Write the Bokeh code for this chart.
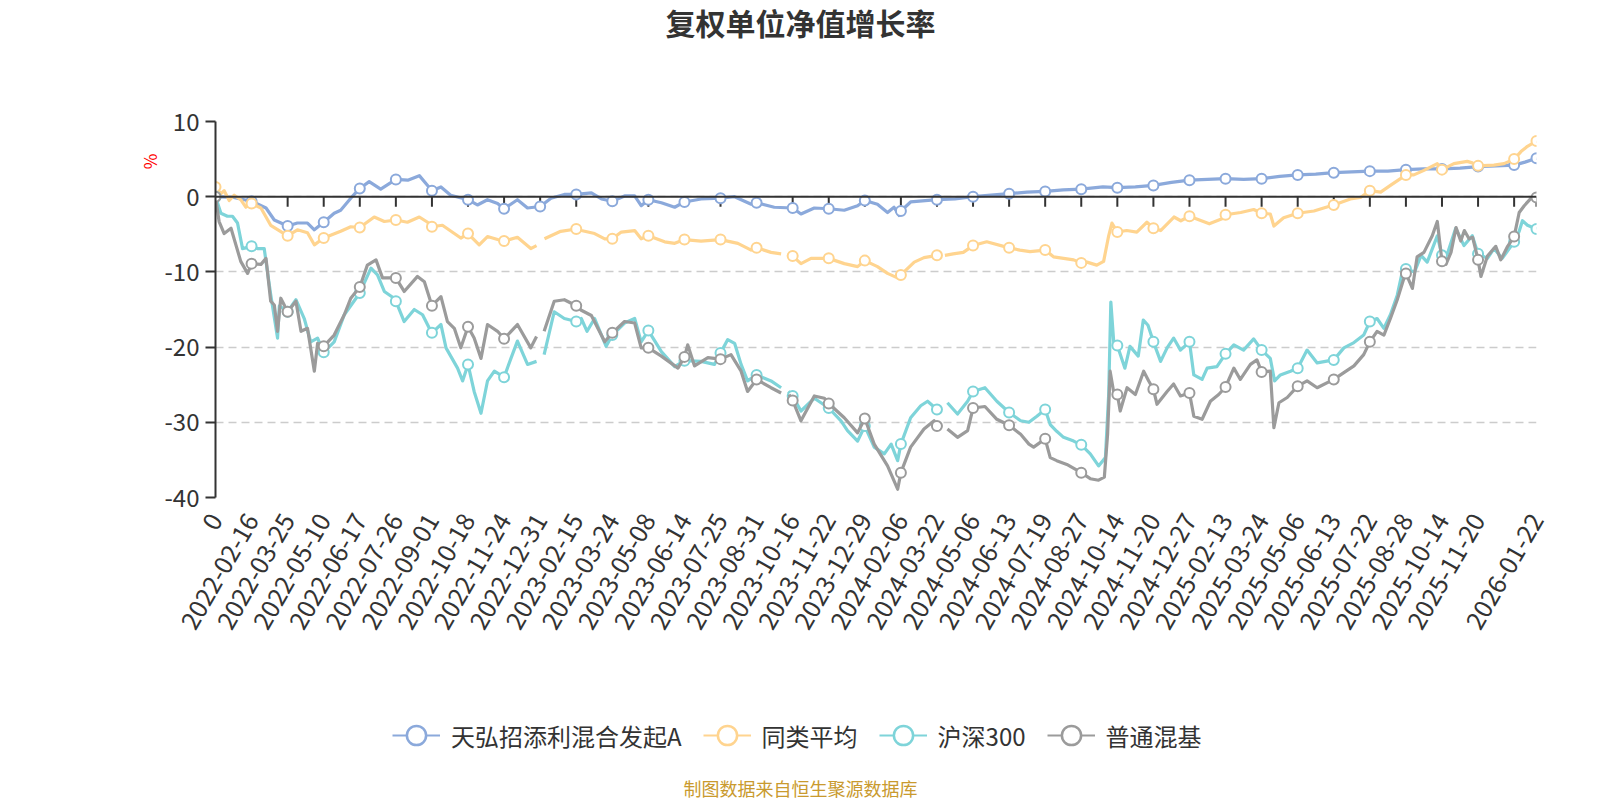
import numpy as np
from math import pi
from bokeh.plotting import figure
from bokeh.layouts import column
from bokeh.models import Range1d, FixedTicker, Span, Legend, LegendItem, Title, Label
from bokeh.embed import file_html
from bokeh.resources import INLINE

nan = float("nan")

# ---------------- data ----------------
title_text = "复权单位净值增长率"
footer_text = "制图数据来自恒生聚源数据库"
y_unit = "%"
series_names = ["天弘招添利混合发起A", "同类平均", "沪深300", "普通混基"]

# category axis: tick labels every 27 trading days (position in label-interval units)
tick_labels = ["0", "2022-02-16", "2022-03-25", "2022-05-10", "2022-06-17", "2022-07-26",
               "2022-09-01", "2022-10-18", "2022-11-24", "2022-12-31", "2023-02-15",
               "2023-03-24", "2023-05-08", "2023-06-14", "2023-07-25", "2023-08-31",
               "2023-10-16", "2023-11-22", "2023-12-29", "2024-02-06", "2024-03-22",
               "2024-05-06", "2024-06-13", "2024-07-19", "2024-08-27", "2024-10-14",
               "2024-11-20", "2024-12-27", "2025-02-13", "2025-03-24", "2025-05-06",
               "2025-06-13", "2025-07-22", "2025-08-28", "2025-10-14", "2025-11-20",
               "", "2026-01-22"]

fund_x = [0, 0.5, 1, 1.4, 1.63, 2, 2.27, 2.55, 2.74, 3, 3.29, 3.47, 3.75, 4, 4.26, 4.58, 5,
          5.33, 5.65, 5.88, 6, 6.25, 6.52, 7, 7.26, 7.54, 7.82, 8, 8.37, 8.65, 9, 9.3, 9.67,
          10, 10.42, 10.7, 11, 11.34, 11.62, 11.8, 12, 12.36, 12.73, 13, 13.46, 14, 14.39,
          14.85, 15, 15.49, 16, 16.23, 16.6, 17, 17.43, 17.8, 18, 18.35, 18.63, 18.81, 18.95,
          19, 19.27, 20, 20.5, 21, 21.5, 22, 22.5, 23, 23.5, 24, 24.6, 25, 25.5, 26, 26.5, 27,
          27.5, 28, 28.5, 29, 29.5, 30, 30.5, 31, 31.5, 32, 32.5, 33, 33.5, 34, 34.5, 35,
          35.5, 36, 36.3, 36.62]
fund_y = [0.0, -0.1, -0.6, -1.5, -3.1, -3.9, -3.5, -3.5, -4.4, -3.4, -2.2, -1.8, -0.2, 1.1,
          2.0, 1.0, 2.3, 2.2, 2.8, 1.5, 0.8, 1.3, 0.2, -0.4, -1.1, -0.4, -0.9, -1.6, -0.4,
          -1.5, -1.3, -0.2, 0.3, 0.3, 0.5, -0.3, -0.6, 0.1, 0.1, -1.2, -0.4, -0.8, -1.4, -0.7,
          -0.3, -0.2, 0.0, -1.0, -0.8, -1.4, -1.5, -2.3, -1.5, -1.6, -1.8, -1.2, -0.5, -1.0,
          -2.1, -1.4, -2.5, -1.9, -0.7, -0.4, -0.3, 0.0, 0.2, 0.4, 0.6, 0.7, 0.9, 1.0, 1.3,
          1.2, 1.3, 1.5, 1.9, 2.2, 2.3, 2.4, 2.3, 2.4, 2.7, 2.9, 3.0, 3.2, 3.3, 3.4, 3.4, 3.6,
          3.7, 3.7, 3.8, 4.0, 4.1, 4.2, 4.6, 5.1]

peer_x = [0, 0.15, 0.24, 0.38, 0.52, 0.7, 0.84, 1, 1.26, 1.53, 2, 2.27, 2.55, 2.74, 3, 3.47,
          3.75, 4, 4.4, 4.68, 5, 5.32, 5.65, 5.88, 6, 6.29, 6.62, 6.8, 7, 7.31, 7.54, 7.82, 8,
          8.37, 8.74, 8.9, 9, 9.12, 9.57, 10, 10.14, 10.51, 10.79, 11, 11.25, 11.62, 11.8, 12,
          12.45, 12.73, 13, 13.46, 14, 14.48, 14.85, 15, 15.4, 15.68, 15.75, 15.86, 16, 16.23,
          16.51, 17, 17.43, 17.8, 18, 18.35, 18.63, 18.95, 19, 19.37, 19.64, 20, 20.1, 20.15,
          20.22, 20.45, 20.73, 21, 21.38, 22, 22.3, 22.58, 23, 23.23, 23.51, 23.79, 24, 24.16,
          24.43, 24.62, 24.76, 24.85, 25, 25.26, 25.54, 25.82, 26, 26.2, 26.57, 26.76, 27,
          27.55, 27.92, 28, 28.42, 28.78, 29, 29.24, 29.34, 29.61, 30, 30.45, 30.72, 31, 31.46,
          31.74, 32, 32.3, 32.57, 32.85, 33, 33.22, 33.5, 33.87, 34, 34.33, 34.7, 34.84, 35,
          35.44, 35.72, 36, 36.19, 36.37, 36.62]
peer_y = [1.3, 0.4, 0.8, -0.5, 0.2, -0.4, -1.4, -0.9, -1.5, -3.8, -5.2, -4.4, -4.8, -6.4, -5.5,
          -4.6, -4.0, -4.1, -2.7, -3.3, -3.1, -3.4, -2.7, -3.4, -4.0, -3.8, -4.9, -5.5, -4.9,
          -6.4, -5.3, -5.7, -5.9, -5.4, -6.9, -6.5, nan, -5.6, -4.6, -4.3, -4.5, -4.9, -5.6,
          -5.6, -4.7, -4.5, -5.6, -5.2, -6.0, -6.2, -5.7, -5.9, -5.7, -6.2, -7.1, -6.8, -7.4,
          -7.6, nan, -7.6, -7.9, -8.9, -8.2, -8.2, -8.9, -9.3, -8.5, -9.3, -10.2, -10.9, -10.4,
          -8.7, -8.1, -7.8, -7.9, nan, -7.8, -7.6, -7.4, -6.5, -6.0, -6.8, -7.1, -7.3, -7.1,
          -8.0, -8.2, -8.4, -8.8, -8.7, -9.1, -8.6, -5.2, -3.5, -4.7, -4.5, -4.7, -3.4, -4.2,
          -4.5, -2.7, -3.2, -2.6, -3.6, -2.9, -2.4, -2.1, -1.7, -2.2, -2.3, -3.9, -2.8, -2.2,
          -1.9, -1.5, -1.1, -0.3, -0.1, 0.8, 0.6, 1.5, 2.4, 2.9, 2.9, 3.5, 4.4, 3.6, 4.4, 4.7,
          4.5, 4.1, 4.2, 4.4, 5.0, 6.0, 6.7, 7.4]

hs300_x = [0, 0.15, 0.33, 0.47, 0.61, 0.75, 1, 1.16, 1.35, 1.53, 1.72, 1.77, 2, 2.23, 2.46,
           2.64, 2.83, 3, 3.29, 3.57, 4, 4.31, 4.49, 4.68, 4.95, 5, 5.23, 5.51, 5.74, 5.97, 6,
           6.25, 6.39, 6.71, 6.85, 7, 7.17, 7.36, 7.54, 7.73, 8, 8.19, 8.37, 8.65, 8.9, 9, 9.11,
           9.39, 9.67, 10, 10.14, 10.3, 10.51, 10.83, 11, 11.34, 11.62, 11.8, 12, 12.36, 12.73,
           13, 13.46, 13.83, 14, 14.2, 14.39, 14.57, 14.75, 15, 15.4, 15.68, 15.75, 15.88, 16,
           16.23, 16.6, 17, 17.34, 17.52, 17.8, 18, 18.26, 18.54, 18.73, 18.91, 19, 19.27,
           19.55, 19.74, 20, 20.1, 20.15, 20.29, 20.57, 20.85, 21, 21.33, 21.66, 22, 22.32,
           22.55, 22.77, 23, 23.14, 23.32, 23.51, 23.79, 24, 24.25, 24.48, 24.67, 24.76, 24.82,
           24.9, 25, 25.21, 25.35, 25.58, 25.72, 25.85, 26, 26.2, 26.38, 26.56, 26.75, 27,
           27.12, 27.35, 27.49, 27.76, 28, 28.23, 28.5, 28.78, 29, 29.24, 29.36, 29.52, 29.8, 30,
           30.26, 30.54, 31, 31.28, 31.56, 31.83, 32, 32.2, 32.39, 32.57, 32.76, 32.9, 33,
           33.24, 33.42, 33.59, 33.87, 34, 34.15, 34.38, 34.61, 34.84, 35, 35.26, 35.44, 35.67,
           36, 36.14, 36.23, 36.37, 36.62]
hs300_y = [0.0, -2.2, -2.6, -2.6, -3.5, -6.9, -6.6, -6.9, -6.9, -13.0, -18.8, -14.5, -15.3,
           -13.7, -16.2, -19.3, -18.8, -20.7, -19.3, -15.7, -12.8, -9.5, -10.4, -12.6, -13.5,
           -13.9, -16.6, -15.0, -15.7, -17.9, -18.1, -17.0, -20.1, -22.8, -24.5, -22.3, -25.9,
           -28.8, -24.5, -23.2, -24.0, -21.5, -19.2, -22.3, -21.9, nan, -21.0, -15.3, -16.2,
           -16.6, -16.2, -17.9, -16.2, -19.9, -18.4, -16.8, -16.2, -19.3, -17.8, -20.6, -22.6,
           -21.8, -21.9, -22.3, -20.8, -19.0, -19.5, -22.3, -24.5, -23.7, -24.5, -25.4, nan,
           -25.9, -26.5, -28.5, -26.8, -28.1, -29.8, -31.1, -32.5, -30.5, -33.3, -34.2, -32.9,
           -35.1, -32.9, -29.4, -27.8, -27.2, -28.3, -28.0, nan, -27.4, -28.9, -27.2, -25.9,
           -25.4, -27.2, -28.7, -29.8, -30.0, -29.2, -28.3, -30.3, -31.2, -32.0, -32.5, -33.0,
           -34.2, -35.8, -34.7, -26.3, -14.0, -19.3, -19.8, -22.8, -19.9, -21.2, -16.4, -17.1,
           -19.3, -21.9, -20.1, -18.8, -20.4, -19.3, -23.7, -24.3, -22.8, -22.6, -20.9, -19.7,
           -20.4, -18.9, -20.4, -21.5, -24.5, -23.7, -23.2, -22.8, -20.4, -22.1, -21.7, -20.1,
           -19.4, -18.4, -16.6, -16.2, -17.5, -15.7, -13.1, -10.0, -9.6, -10.0, -7.8, -8.7,
           -5.2, -7.8, -7.6, -4.2, -6.5, -5.2, -7.6, -8.2, -6.9, -8.2, -6.0, -4.6, -3.2, -3.8,
           -4.3]

mix_x = [0, 0.1, 0.24, 0.43, 0.7, 0.89, 1, 1.26, 1.4, 1.53, 1.63, 1.72, 1.81, 2, 2.23, 2.37,
         2.55, 2.74, 2.83, 3, 3.29, 3.57, 3.75, 4, 4.21, 4.45, 4.63, 5, 5.23, 5.6, 5.79, 6,
         6.25, 6.43, 6.62, 6.8, 7, 7.17, 7.36, 7.54, 7.82, 8, 8.37, 8.74, 8.9, 9, 9.11, 9.39,
         9.67, 10, 10.14, 10.42, 10.79, 11, 11.34, 11.62, 11.8, 12, 12.36, 12.82, 13, 13.09,
         13.28, 13.65, 14, 14.29, 14.57, 14.75, 15, 15.4, 15.68, 15.75, 15.9, 16, 16.23, 16.6,
         16.88, 17, 17.43, 17.8, 18, 18.26, 18.63, 18.91, 19, 19.27, 19.64, 19.92, 20, 20.1,
         20.15, 20.29, 20.57, 20.85, 21, 21.33, 21.66, 22, 22.32, 22.55, 22.68, 23, 23.14,
         23.32, 23.6, 24, 24.25, 24.48, 24.64, 24.73, 24.8, 24.9, 25, 25.08, 25.27, 25.5,
         25.73, 25.87, 26, 26.1, 26.38, 26.56, 26.75, 27, 27.12, 27.35, 27.58, 27.81, 28,
         28.23, 28.41, 28.69, 28.87, 29, 29.24, 29.34, 29.48, 29.71, 30, 30.26, 30.54, 31,
         31.28, 31.56, 31.83, 32, 32.2, 32.39, 32.57, 32.76, 32.94, 33, 33.18, 33.31, 33.5,
         33.73, 33.87, 34, 34.11, 34.25, 34.39, 34.52, 34.62, 34.75, 34.85, 35, 35.08, 35.26,
         35.49, 35.63, 35.82, 36, 36.14, 36.28, 36.51, 36.62]
mix_y = [0.0, -3.3, -4.9, -4.2, -8.6, -10.2, -8.9, -9.0, -8.2, -13.9, -14.4, -17.9, -13.5,
         -15.3, -13.9, -17.9, -17.5, -23.2, -19.5, -19.9, -18.4, -15.7, -13.5, -12.0, -9.1,
         -8.4, -10.8, -10.8, -12.6, -10.6, -11.3, -14.5, -13.3, -16.6, -17.5, -20.1, -17.3,
         -18.8, -21.5, -17.0, -17.9, -18.9, -17.0, -20.1, -18.6, nan, -17.9, -13.9, -13.7,
         -14.5, -15.1, -15.8, -19.3, -18.1, -16.6, -16.8, -20.1, -20.1, -21.2, -22.8, -21.3,
         -19.7, -22.5, -21.4, -21.6, -21.0, -23.2, -25.9, -24.3, -25.4, -26.1, nan, -26.3,
         -27.1, -29.8, -26.5, -26.8, -27.5, -29.4, -31.4, -29.5, -32.9, -35.8, -38.9, -36.7,
         -33.3, -30.9, -29.8, -30.5, -30.6, nan, -30.9, -32.0, -31.1, -28.1, -27.9, -29.6,
         -30.4, -31.6, -32.9, -33.3, -32.2, -34.7, -35.1, -35.6, -36.7, -37.5, -37.7, -37.3,
         -31.6, -23.2, -26.0, -26.3, -28.5, -25.4, -26.3, -23.2, -24.5, -25.6, -27.6, -25.9,
         -24.9, -26.5, -26.1, -29.2, -29.6, -27.2, -26.3, -25.3, -22.8, -24.3, -22.3, -21.7,
         -23.3, -23.2, -30.7, -27.4, -26.7, -25.2, -24.5, -25.4, -24.3, -23.4, -22.5, -21.0,
         -19.3, -17.9, -18.4, -16.2, -13.7, -10.9, -10.2, -12.2, -8.0, -7.4, -5.2, -3.3, -8.6,
         -9.0, -7.4, -4.1, -5.9, -4.5, -5.6, -5.4, -8.4, -10.6, -7.9, -6.6, -8.4, -6.6, -5.3,
         -2.1, -1.2, 0.0, -0.1]

colors = ["#8BA9DB", "#FFD48F", "#7ED4D9", "#9B9B9B"]
y_ticks = [-40, -30, -20, -10, 0, 10]

# ---------------- layout ----------------
W = 1600
HEAD_H, MAIN_H, FOOT_H = 100, 600, 100
LEFT, RIGHT, TOP = 215, 64, 21
FRAME_H = 376
BOTTOM = MAIN_H - TOP - FRAME_H
FONT = "Noto Sans CJK SC"


def blank(h):
    # strip whose frame lines up with the chart frame; x data units == page pixels
    f = figure(width=W, height=h, output_backend="svg", toolbar_location=None,
               x_axis_type=None, y_axis_type=None, x_range=Range1d(LEFT, W - RIGHT),
               y_range=Range1d(0, h), min_border_left=LEFT, min_border_right=RIGHT,
               min_border_top=0, min_border_bottom=0)
    f.outline_line_color = None
    f.xgrid.visible = False
    f.ygrid.visible = False
    f.background_fill_color = "white"
    f.border_fill_color = "white"
    return f


# ---- title strip ----
head = blank(HEAD_H)
head.add_layout(Label(x=W / 2, y=HEAD_H - 21, text=title_text, text_align="center",
                      text_baseline="middle", text_font_size="30px", text_font_style="bold",
                      text_font=FONT, text_color="#333333"))

# ---- main chart ----
end_pos = fund_x[-1]
tick_pos = list(range(len(tick_labels) - 1)) + [end_pos]

p = figure(width=W, height=MAIN_H, output_backend="svg", toolbar_location=None,
           x_range=Range1d(0, end_pos), y_range=Range1d(min(y_ticks), max(y_ticks)),
           min_border_left=LEFT, min_border_right=RIGHT, min_border_top=TOP,
           min_border_bottom=BOTTOM)
p.outline_line_color = None
p.background_fill_color = "white"
p.border_fill_color = "white"
p.xgrid.visible = False
p.ygrid.grid_line_color = "#CCCCCC"
p.ygrid.grid_line_dash = "8 5"
p.ygrid.grid_line_width = 1.5

p.yaxis.ticker = FixedTicker(ticks=y_ticks)
p.yaxis.major_label_overrides = {t: str(t) for t in y_ticks}
p.yaxis.axis_line_color = "#333333"
p.yaxis.axis_line_width = 2
p.yaxis.major_tick_line_color = "#333333"
p.yaxis.major_tick_line_width = 2
p.yaxis.major_tick_out = 10
p.yaxis.major_tick_in = 0
p.yaxis.minor_tick_line_color = None
p.yaxis.major_label_standoff = 6
p.yaxis.major_label_text_font_size = "24px"
p.yaxis.major_label_text_font = FONT
p.yaxis.major_label_text_color = "#333333"

p.xaxis.ticker = FixedTicker(ticks=tick_pos)
p.xaxis.major_label_overrides = {t: lab for t, lab in zip(tick_pos, tick_labels)}
p.xaxis.axis_line_color = None
p.xaxis.major_tick_line_color = None
p.xaxis.minor_tick_line_color = None
p.xaxis.major_label_orientation = pi / 3
p.xaxis.major_label_standoff = 12
p.xaxis.major_label_text_font_size = "25px"
p.xaxis.major_label_text_font = FONT
p.xaxis.major_label_text_color = "#333333"

# zero axis line with ticks
p.add_layout(Span(location=0, dimension="width", line_color="#333333", line_width=2))
tick_len = 10 * (max(y_ticks) - min(y_ticks)) / FRAME_H
p.segment(x0=tick_pos, y0=[0] * len(tick_pos), x1=tick_pos, y1=[-tick_len] * len(tick_pos),
          line_color="#333333", line_width=2)

# unit label on the left, near the top of the axis
p.add_layout(Title(text=y_unit, align="right", offset=32, standoff=0,
                   text_font_size="17px", text_font=FONT, text_color="#FF0000",
                   text_font_style="normal"), "left")

# ---- legend + footer strip ----
foot = blank(FOOT_H)
items = []
for name, xs, ys, c in zip(series_names, [fund_x, peer_x, hs300_x, mix_x],
                           [fund_y, peer_y, hs300_y, mix_y], colors):
    xs = np.array(xs, dtype=float)
    ys = np.array(ys, dtype=float)
    p.line(xs, ys, line_color=c, line_width=3.2, line_join="round")
    mask = np.isin(np.round(xs, 2), np.round(tick_pos, 2)) & ~np.isnan(ys)
    p.scatter(xs[mask], ys[mask], marker="circle", size=10, fill_color="white",
              line_color=c, line_width=2)
    # legend-only glyphs (one empty point so the legend has something to draw)
    ll = foot.line(x=[nan], y=[nan], line_color=c, line_width=2)
    ls = foot.scatter(x=[nan], y=[nan], marker="circle", fill_color="white", line_color=c,
                      line_width=2.5)
    items.append(LegendItem(label=name, renderers=[ll, ls]))

legend = Legend(items=items, orientation="horizontal", location=(392 - LEFT, FOOT_H - 35 - 25),
                border_line_color=None, background_fill_alpha=0, padding=0, margin=0,
                spacing=21, label_standoff=11, glyph_width=48, glyph_height=50,
                label_text_font_size="24px", label_text_font=FONT, label_text_color="#333333")
foot.add_layout(legend)
foot.add_layout(Label(x=W / 2, y=FOOT_H - 87, text=footer_text, text_align="center",
                      text_baseline="middle", text_font_size="18px", text_font=FONT,
                      text_color="#C99A2E"))

page = column(head, p, foot, spacing=0)
open("out.html", "w").write(file_html(page, INLINE))
